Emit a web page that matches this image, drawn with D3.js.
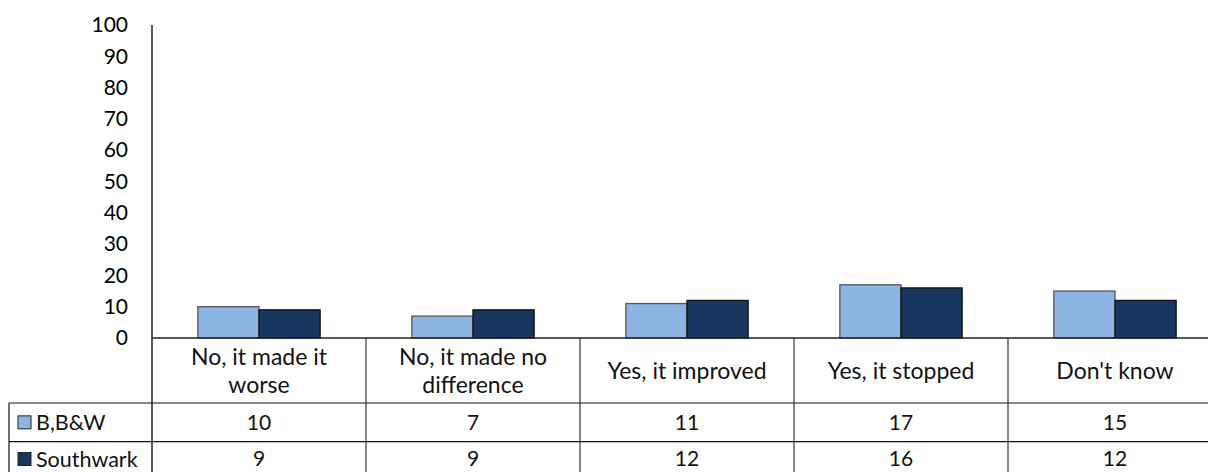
<!DOCTYPE html>
<html>
<head>
<meta charset="utf-8">
<script src="https://cdn.jsdelivr.net/npm/d3@7"></script>
<style>
  html, body { margin: 0; padding: 0; background: #fff; }
  svg { display: block; font-family: Lato, "Open Sans", sans-serif; }
</style>
</head>
<body>
<svg id="chart" width="1208" height="472"></svg>
<script>
const categories = [["No, it made it", "worse"], ["No, it made no", "difference"], ["Yes, it improved"], ["Yes, it stopped"], ["Don't know"]];
const seriesNames = ["B,B&W", "Southwark"];
const seriesBBW = [10, 7, 11, 17, 15];
const seriesSouthwark = [9, 9, 12, 16, 12];
const yTicks = [0, 10, 20, 30, 40, 50, 60, 70, 80, 90, 100];

const seriesValues = [seriesBBW, seriesSouthwark];
const colors = ["#8EB4E3", "#17375E"];
const strokes = ["#555", "#111"];

const svg = d3.select("#chart");
const W = 1208, H = 472;
const plotLeft = 152, plotTop = 25, baseY = 338;
const headerH = 65, rowH = 38.7;
const tableLeft = 9;
const numSize = 21, labelSize = 23, legendSize = 21.5;

const catKeys = categories.map(c => c.join(" "));
const x0 = d3.scaleBand().domain(catKeys).range([plotLeft, plotLeft + 214 * catKeys.length]).padding(0);
const x1 = d3.scaleBand().domain(seriesNames).range([0, x0.bandwidth()]).paddingInner(0).paddingOuter(0.75);
const y = d3.scaleLinear().domain([0, 100]).range([baseY, plotTop]);

// y axis
const yAxis = d3.axisLeft(y).tickValues(yTicks).tickSize(0).tickPadding(24).tickFormat(d3.format("d"));
const gy = svg.append("g").attr("transform", `translate(${plotLeft},0)`).call(yAxis);
gy.select(".domain").remove();
gy.selectAll("text").attr("font-size", numSize).attr("fill", "#000").attr("font-family", "Lato, 'Open Sans', sans-serif");

// bars
catKeys.forEach((ck, i) => {
  seriesNames.forEach((s, j) => {
    const v = seriesValues[j][i];
    svg.append("rect")
      .attr("x", x0(ck) + x1(s))
      .attr("y", y(v))
      .attr("width", x1.bandwidth())
      .attr("height", y(0) - y(v))
      .attr("fill", colors[j])
      .attr("stroke", strokes[j])
      .attr("stroke-width", 1.3);
  });
});

// lines
svg.append("line").attr("x1", plotLeft).attr("x2", plotLeft).attr("y1", plotTop).attr("y2", H)
  .attr("stroke", "#000").attr("stroke-width", 1.3);
svg.append("line").attr("x1", plotLeft).attr("x2", W).attr("y1", baseY).attr("y2", baseY)
  .attr("stroke", "#222").attr("stroke-width", 1.5);
catKeys.slice(1).forEach(ck => {
  svg.append("line").attr("x1", x0(ck)).attr("x2", x0(ck)).attr("y1", baseY).attr("y2", H)
    .attr("stroke", "#333").attr("stroke-width", 1.2);
});
const rowTops = seriesNames.map((s, j) => baseY + headerH + j * rowH);
rowTops.forEach(ry => {
  svg.append("line").attr("x1", tableLeft).attr("x2", W).attr("y1", ry).attr("y2", ry)
    .attr("stroke", "#111").attr("stroke-width", 1.2);
});
svg.append("line").attr("x1", tableLeft).attr("x2", tableLeft).attr("y1", rowTops[0]).attr("y2", H)
  .attr("stroke", "#111").attr("stroke-width", 1.2);

// category labels
catKeys.forEach((ck, i) => {
  const lines = categories[i];
  const cx = x0(ck) + x0.bandwidth() / 2;
  const cy = baseY + headerH / 2;
  const lh = 28;
  const t = svg.append("text").attr("text-anchor", "middle").attr("font-size", labelSize).attr("fill", "#111");
  lines.forEach((ln, k) => {
    t.append("tspan").attr("x", cx).attr("y", cy + (k - (lines.length - 1) / 2) * lh).attr("dy", "0.35em").text(ln);
  });
});

// table rows
seriesNames.forEach((s, j) => {
  const cy = Math.min(rowTops[j] + rowH / 2, H - 13);
  svg.append("rect").attr("x", 18).attr("y", cy - 6.5).attr("width", 13).attr("height", 13)
    .attr("fill", colors[j]).attr("stroke", "#222").attr("stroke-width", 1);
  svg.append("text").attr("x", 36).attr("y", cy).attr("dy", "0.35em").attr("font-size", legendSize).attr("fill", "#111").text(s);
  catKeys.forEach((ck, i) => {
    svg.append("text").attr("x", x0(ck) + x0.bandwidth() / 2).attr("y", cy).attr("dy", "0.35em")
      .attr("text-anchor", "middle").attr("font-size", numSize).attr("fill", "#111").text(seriesValues[j][i]);
  });
});
</script>
</body>
</html>
